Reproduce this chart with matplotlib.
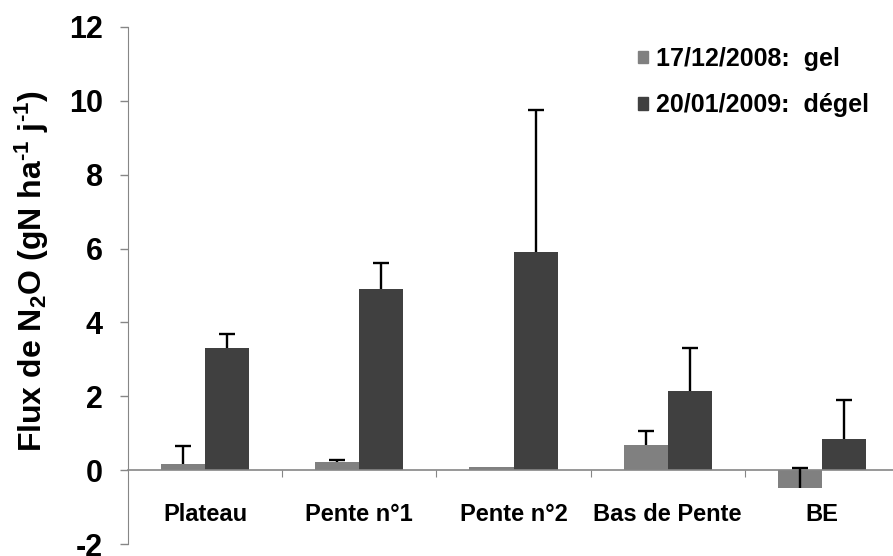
import numpy as np
import matplotlib
matplotlib.use("Agg")
import matplotlib.pyplot as plt
from matplotlib.patches import Patch

plt.rcParams['font.family'] = ['Liberation Sans', 'DejaVu Sans']
plt.rcParams['font.weight'] = 'bold'
plt.rcParams['axes.labelweight'] = 'bold'
plt.rcParams['axes.unicode_minus'] = False
plt.rcParams['mathtext.fontset'] = 'custom'
plt.rcParams['mathtext.rm'] = 'Liberation Sans:bold'
plt.rcParams['mathtext.bf'] = 'Liberation Sans:bold'
plt.rcParams['mathtext.default'] = 'bf'

sites = ["Plateau", "Pente n°1", "Pente n°2", "Bas de Pente", "BE"]
gel = [0.17, 0.22, 0.08, 0.69, -0.49]
gel_err = [0.48, 0.05, 0.0, 0.36, 0.55]
degel = [3.32, 4.90, 5.92, 2.15, 0.84]
degel_err = [0.37, 0.70, 3.83, 1.15, 1.06]
labels = ["17/12/2008:  gel", "20/01/2009:  dégel"]

c_gel = "#808080"
c_degel = "#404040"
axis_grey = "#868686"

fig = plt.figure(figsize=(8.93, 5.56), dpi=100)
ax = fig.add_axes([128 / 893, 12 / 556, 771 / 893, 517 / 556])

x = np.arange(len(sites))
w = 0.286


def up_errbars(xpos, vals, errs):
    # one-sided (upward) error bars with a cap on top only
    for xp, v, e in zip(xpos, vals, errs):
        if e <= 0:
            continue
        ax.vlines(xp, v, v + e, color="black", lw=1.7, zorder=3)
        ax.plot(xp, v + e, marker="_", ms=11, mew=1.7, color="black", zorder=3)


ax.bar(x - w / 2, gel, w, color=c_gel)
ax.bar(x + w / 2, degel, w, color=c_degel)
up_errbars(x - w / 2, gel, gel_err)
up_errbars(x + w / 2, degel, degel_err)

ax.set_xlim(-0.5, 4.5)
ax.set_ylim(-2, 12)
ax.set_yticks(np.arange(-2, 13, 2))
ax.tick_params(axis="y", direction="out", length=6, width=1, color=axis_grey,
               labelsize=22, pad=12)

# category axis sits on y = 0
for s in ["top", "right"]:
    ax.spines[s].set_visible(False)
ax.spines["left"].set_color(axis_grey)
ax.spines["bottom"].set_position(("data", 0))
ax.spines["bottom"].set_color(axis_grey)
ax.spines["bottom"].set_linewidth(1.2)
ax.set_xticks(np.arange(0.5, 4, 1))
ax.set_xticklabels([])
ax.set_xticks(x, minor=True)
ax.set_xticklabels(sites, minor=True)
ax.tick_params(axis="x", which="major", direction="out", length=5, color=axis_grey)
ax.tick_params(axis="x", which="minor", length=0, labelsize=17, pad=24)

ax.set_ylabel(r"Flux de N$_2$O (gN ha$^{\text{-1}}$ j$^{\text{-1}}$)", fontsize=23)
ax.yaxis.set_label_coords(-0.1, 0.528)

handles = [Patch(color=c_gel), Patch(color=c_degel)]
ax.legend(handles, labels, loc="upper right", bbox_to_anchor=(0.99, 1.005),
          frameon=False, fontsize=18, handlelength=0.4, handleheight=0.4,
          handletextpad=0.3, labelspacing=0.9)

fig.savefig("out.png", dpi=100)
